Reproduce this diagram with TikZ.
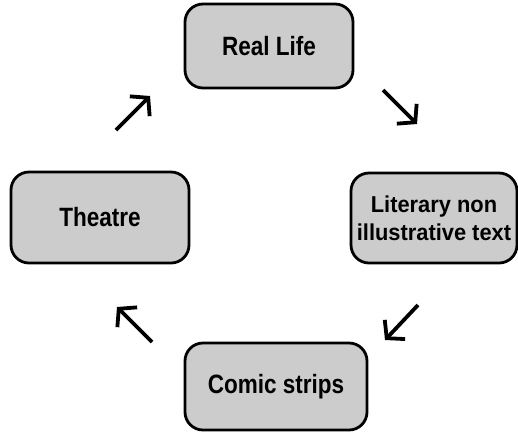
\documentclass[tikz,border=0pt]{standalone}
\usepackage{fontspec}
\newfontfamily\boxfont[FakeStretch=0.85]{Liberation Sans}
\newfontfamily\litfont[FakeStretch=0.95]{Liberation Sans}
\usetikzlibrary{arrows.meta}
\tikzset{
  box/.style={draw, line width=2.8pt, rounded corners=18pt, fill=black!20,
    inner sep=0pt, align=center, font=\boxfont\bfseries\fontsize{26.5}{28}\selectfont},
  flow/.style={-{Straight Barb[length=12pt, width=28pt]}, line width=3.8pt}
}
\begin{document}
\begin{tikzpicture}[x=1pt, y=-1pt]
				\useasboundingbox (0,0) rectangle (518,432);
				\draw (269,46) node[box, minimum width=168pt, minimum height=84pt] (life) {Real Life};
				\draw (434,218) node[box, minimum width=166pt, minimum height=90pt,
				  font=\litfont\bfseries\fontsize{23}{28}\selectfont] (lit) {Literary non\\illustrative text};
				\draw (276,386.5) node[box, minimum width=182pt, minimum height=87pt] (comic) {Comic strips};
				\draw (100,217.5) node[box, minimum width=178pt, minimum height=91pt] (theatre) {Theatre};
				\draw (116,130) coordinate (a1);
				\draw (150,96) coordinate (b1);
				\draw (383,90) coordinate (a2);
				\draw (417,124) coordinate (b2);
				\draw (418,305) coordinate (a3);
				\draw (385,340) coordinate (b3);
				\draw (152,342) coordinate (a4);
				\draw (117,307) coordinate (b4);
				\draw[flow] (a1) -- (b1);
				\draw[flow] (a2) -- (b2);
				\draw[flow] (a3) -- (b3);
				\draw[flow] (a4) -- (b4);
			\end{tikzpicture}
\end{document}
